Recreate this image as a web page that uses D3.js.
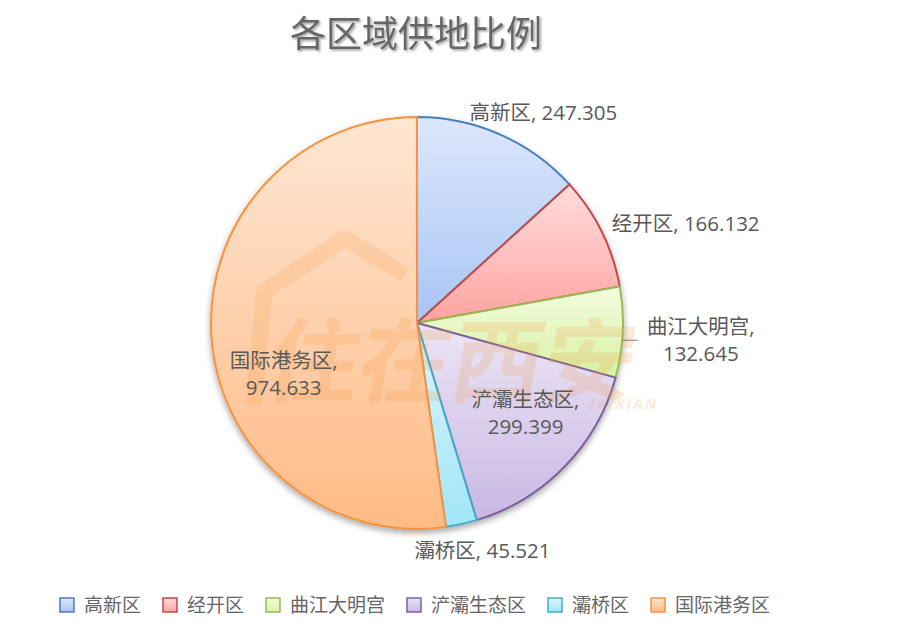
<!DOCTYPE html>
<html><head><meta charset="utf-8">
<script src="https://cdn.jsdelivr.net/npm/d3@7"></script>
<style>html,body{margin:0;padding:0;background:#fff;}svg{display:block;}</style>
</head><body>
<svg id="chart" width="900" height="638"></svg>
<script>
const categories = ["高新区", "经开区", "曲江大明宫", "浐灞生态区", "灞桥区", "国际港务区"];
const values = [247.305, 166.132, 132.645, 299.399, 45.521, 974.633];
const valueLabels = ["247.305", "166.132", "132.645", "299.399", "45.521", "974.633"];
const title = "各区域供地比例";

const fillTop = ["#dce7fc", "#ffdcdc", "#f3fce0", "#ece5f5", "#ddf6fd", "#ffe6d3"];
const fillBottom = ["#a9c5f4", "#ffa3a1", "#d9f2a4", "#c9b8e4", "#a0e5f8", "#ffbb85"];
const strokes = ["#4a7ebb", "#be4b48", "#98b954", "#7d60a0", "#46aac5", "#f69240"];

const svg = d3.select("#chart");
const cx = 417, cy = 323, R = 206;
const font = "'Open Sans', 'Noto Sans CJK SC', sans-serif";
const textColor = "#595959";

const defs = svg.append("defs");
categories.forEach((c, i) => {
  const g = defs.append("linearGradient").attr("id", "g" + i)
    .attr("x1", 0).attr("y1", 0).attr("x2", 0).attr("y2", 1);
  g.append("stop").attr("offset", "0%").attr("stop-color", fillTop[i]);
  g.append("stop").attr("offset", "100%").attr("stop-color", fillBottom[i]);
});
const sh = defs.append("filter").attr("id", "shadow").attr("x", "-10%").attr("y", "-10%").attr("width", "120%").attr("height", "125%");
sh.append("feDropShadow").attr("dx", 0).attr("dy", 3).attr("stdDeviation", 3).attr("flood-color", "#000").attr("flood-opacity", 0.35);
const tsh = defs.append("filter").attr("id", "tshadow").attr("x", "-5%").attr("y", "-20%").attr("width", "110%").attr("height", "150%");
tsh.append("feDropShadow").attr("dx", 1.5).attr("dy", 1.5).attr("stdDeviation", 0.8).attr("flood-color", "#000").attr("flood-opacity", 0.4);

// Title
svg.append("text").attr("x", 416).attr("y", 47).attr("text-anchor", "middle")
  .attr("font-family", "'Noto Sans CJK SC', sans-serif").attr("font-size", 36).attr("font-weight", 400)
  .attr("fill", "#666666").attr("filter", "url(#tshadow)").text(title);

const pie = d3.pie().sort(null).value(d => d)(values);
const arc = d3.arc().innerRadius(0).outerRadius(R);

const gPie = svg.append("g").attr("transform", `translate(${cx},${cy})`);
const slices = gPie.append("g").attr("filter", "url(#shadow)");
slices.selectAll("path").data(pie).join("path")
  .attr("d", arc)
  .attr("fill", (d, i) => `url(#g${i})`)
  .attr("stroke", (d, i) => strokes[i])
  .attr("stroke-width", 2)
  .attr("stroke-linejoin", "round");

// Watermark
const wm = svg.append("g").attr("opacity", 0.2).attr("pointer-events", "none");
wm.append("path")
  .attr("d", "M254,405 L264,292 L345,238 L405,275")
  .attr("fill", "none").attr("stroke", "#f6a04d").attr("stroke-width", 16).attr("stroke-linejoin", "round");
wm.append("text").attr("x", 448).attr("y", 395).attr("text-anchor", "middle")
  .attr("font-family", "'Noto Sans CJK SC', sans-serif").attr("font-size", 92).attr("font-weight", "bold")
  .attr("fill", "#f39a45").attr("transform", "skewX(-10) translate(68,0)")
  .text("住在西安");
wm.append("text").attr("x", 658).attr("y", 409).attr("text-anchor", "end")
  .attr("font-family", font).attr("font-size", 15).attr("font-weight", "bold")
  .attr("font-style", "italic").attr("fill", "#f39a45").attr("letter-spacing", 2)
  .text("ZAIXIAN");

// Data labels
const labelCfg = [
  { k: 1.0, dx: 43, dy: -22, anchor: "middle", lines: 1 },
  { k: 1.0, dx: 10, dy: -8, anchor: "start", lines: 1 },
  { k: 1.0, dx: 78, dy: 8, anchor: "middle", lines: 2, leader: true },
  { k: 0.6, dx: 20, dy: 4, anchor: "middle", lines: 2 },
  { k: 1.0, dx: 21, dy: 27, anchor: "middle", lines: 1 },
  { k: 0.6, dx: -10, dy: 43, anchor: "middle", lines: 2 }
];
const fs = 20.5, lh = 27;
const gl = svg.append("g").attr("font-family", font).attr("font-size", fs).attr("fill", textColor);
pie.forEach((d, i) => {
  const cfg = labelCfg[i];
  const mid = (d.startAngle + d.endAngle) / 2;
  const p = d3.pointRadial(mid, R * cfg.k);
  const x = cx + p[0] + cfg.dx, y = cy + p[1] + cfg.dy;
  const t = gl.append("text").attr("text-anchor", cfg.anchor);
  if (cfg.lines === 1) {
    t.append("tspan").attr("x", x).attr("y", y + 7).text(categories[i] + ", " + valueLabels[i]);
  } else {
    t.append("tspan").attr("x", x).attr("y", y - lh / 2 + 7).text(categories[i] + ",");
    t.append("tspan").attr("x", x).attr("y", y + lh / 2 + 7).text(valueLabels[i]);
  }
  if (cfg.leader) {
    const e = d3.pointRadial(mid, R);
    svg.append("line").attr("x1", cx + e[0] - 1).attr("x2", cx + e[0] + 15)
      .attr("y1", y).attr("y2", y).attr("stroke", "#7f7f7f").attr("stroke-width", 1);
  }
});

// Legend
const lg = svg.append("g").attr("font-family", font).attr("font-size", 19).attr("fill", "#666666");
const sq = 14, gapT = 10, gapI = 22;
const items = categories.map((c, i) => {
  const g = lg.append("g");
  g.append("rect").attr("width", sq).attr("height", sq).attr("y", -sq / 2)
    .attr("fill", `url(#g${i})`).attr("stroke", strokes[i]).attr("stroke-width", 1.5);
  const t = g.append("text").attr("x", sq + gapT).attr("y", 7).text(c);
  return { g, w: sq + gapT + t.node().getComputedTextLength() };
});
const total = d3.sum(items, d => d.w) + gapI * (items.length - 1);
let lx = 415 - total / 2;
items.forEach(it => { it.g.attr("transform", `translate(${lx},605)`); lx += it.w + gapI; });
</script>
</body></html>
